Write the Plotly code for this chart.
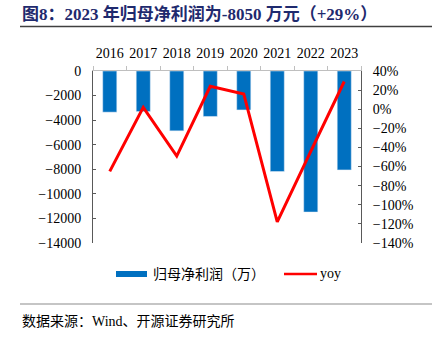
import plotly.graph_objects as go

years = ["2016", "2017", "2018", "2019", "2020", "2021", "2022", "2023"]
net_profit = [-3350, -3300, -4870, -3700, -3170, -8180, -11480, -8050]  # 万元
yoy = [-65, 2, -49, 24, 16, -118, -44, 29]  # %

bar_name = "归母净利润（万）"
line_name = "yoy"
title_text = "图8：2023 年归母净利润为-8050 万元（+29%）"
source_text = "数据来源：Wind、开源证券研究所"

BLUE = "#0070C0"
RED = "#FF0000"
SERIF = "Liberation Serif, Times New Roman, Noto Sans CJK SC, serif"
CJK = "Liberation Serif, Noto Sans CJK SC, serif"

W, H = 441, 339
L, R, T, B = 93, 80, 71, 96

fig = go.Figure()
fig.add_trace(go.Bar(x=years, y=net_profit, name=bar_name, marker_color=BLUE,
                     width=0.42, yaxis="y"))
fig.add_trace(go.Scatter(x=years, y=yoy, name=line_name, mode="lines",
                         line=dict(color=RED, width=3), yaxis="y2"))

axis_font = dict(family=SERIF, size=14, color="#000000")

fig.update_layout(
    width=W, height=H,
    margin=dict(l=L, r=R, t=T, b=B, pad=0),
    paper_bgcolor="white", plot_bgcolor="white",
    showlegend=False,
    xaxis=dict(
        side="top", type="category", tickangle=0,
        showline=True, linecolor="#BFBFBF", linewidth=1,
        ticks="outside", tickson="boundaries", ticklen=4, tickcolor="#BFBFBF",
        tickfont=axis_font, showgrid=False, zeroline=False,
        ticklabelstandoff=6,
    ),
    yaxis=dict(
        range=[-14000, 0], dtick=2000, tick0=0, tickformat="d",
        showline=True, linecolor="#595959", linewidth=1,
        ticks="inside", ticklen=3, tickcolor="#595959",
        tickfont=axis_font, showgrid=False, zeroline=False,
        ticklabelstandoff=8,
    ),
    yaxis2=dict(
        overlaying="y", side="right",
        range=[-140, 40], dtick=20, tick0=0, ticksuffix="%", tickformat="d",
        showline=True, linecolor="#595959", linewidth=1,
        ticks="inside", ticklen=3, tickcolor="#595959",
        tickfont=axis_font, showgrid=False, zeroline=False,
        ticklabelstandoff=8,
    ),
)

PW, PH = W - L - R, H - T - B

def fx(x):
    # pixel x -> paper fraction of the plot area
    return (x - L) / PW

def fy(y):
    # pixel y (from top) -> paper fraction of the plot area
    return (H - B - y) / PH

fig.update_layout(shapes=[
    # rule under the title
    dict(type="line", xref="paper", yref="paper", x0=fx(20), x1=fx(432),
         y0=fy(26.5), y1=fy(26.5), line=dict(color="#404040", width=1.5)),
    # rule above the source note
    dict(type="line", xref="paper", yref="paper", x0=fx(20), x1=fx(432),
         y0=fy(304), y1=fy(304), line=dict(color="#8C8C8C", width=1.2)),
    # legend key: bar
    dict(type="rect", xref="paper", yref="paper", x0=fx(116), x1=fx(147),
         y0=fy(277), y1=fy(271), fillcolor=BLUE, line=dict(width=0)),
    # legend key: line
    dict(type="line", xref="paper", yref="paper", x0=fx(284), x1=fx(317),
         y0=fy(274), y1=fy(274), line=dict(color=RED, width=2.5)),
])

def ann(text, x, y, size, color="#000000", bold=False, family=CJK):
    return dict(
        text=f"<b>{text}</b>" if bold else text,
        xref="paper", yref="paper", x=fx(x), y=fy(y),
        xanchor="left", yanchor="middle", showarrow=False,
        font=dict(family=family, size=size, color=color),
    )

fig.update_layout(annotations=[
    ann(title_text, 20, 14, 17, color="#1F2A6E", bold=True),
    ann(bar_name, 151, 274, 14),
    ann(line_name, 318, 273, 14, family=SERIF),
    ann(source_text, 20, 321, 14),
])

fig.write_html("out.html")
